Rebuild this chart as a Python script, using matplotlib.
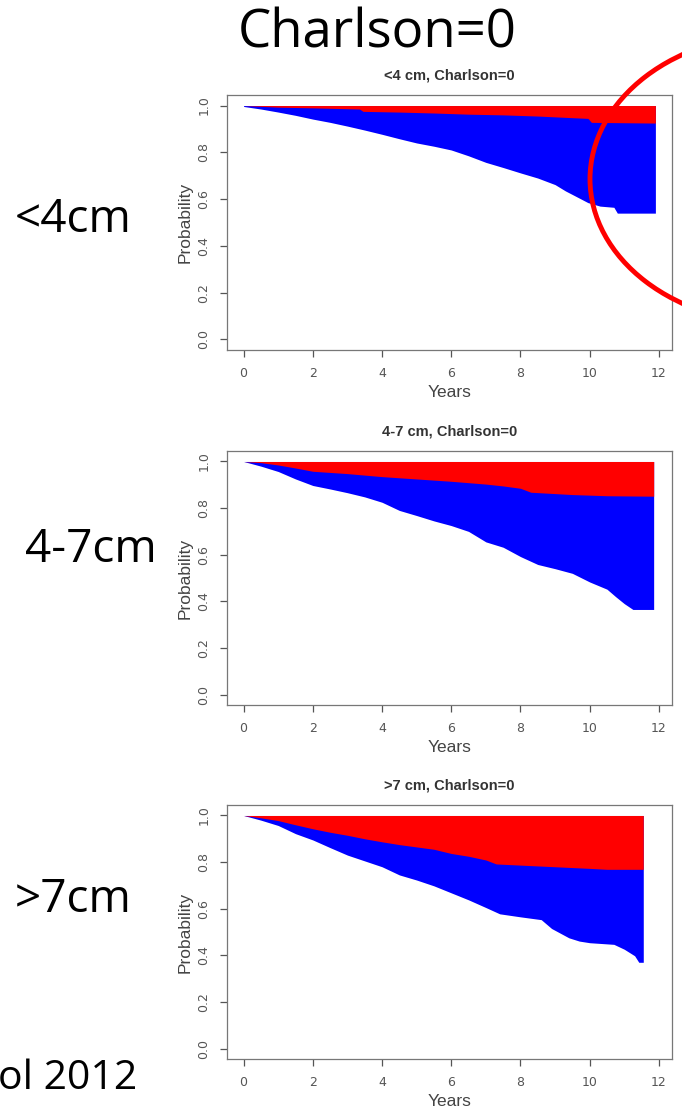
import numpy as np
import matplotlib
matplotlib.use("Agg")
import matplotlib.pyplot as plt
from matplotlib.patches import Ellipse

# curves: overall survival (white/blue edge)
# and the blue/red edge, one pair per tumour size
os_small_t = [0, 0.5, 1.0, 1.5, 2.0, 2.5, 3.0, 3.5, 4.0, 4.5, 5.0, 5.5, 6.0, 6.5,
              7.0, 7.5, 8.0, 8.5, 9.0, 9.3, 9.6, 9.95, 10.3, 10.7, 10.8, 11.9]
os_small = [0.996, 0.985, 0.972, 0.958, 0.942, 0.928, 0.912, 0.895, 0.877, 0.858,
            0.840, 0.826, 0.810, 0.785, 0.757, 0.735, 0.712, 0.690, 0.662, 0.635,
            0.612, 0.585, 0.570, 0.565, 0.540, 0.540]
red_small_t = [0, 1.0, 2.0, 3.35, 3.45, 4.5, 5.5, 6.5, 7.5, 8.5, 9.5, 9.95, 10.05, 11.9]
red_small = [1.0, 0.993, 0.990, 0.985, 0.975, 0.972, 0.968, 0.963, 0.960,
             0.955, 0.948, 0.945, 0.928, 0.925]

os_mid_t = [0, 0.5, 1.0, 1.5, 2.0, 2.5, 3.0, 3.5, 4.0, 4.5, 5.0, 5.5, 6.0, 6.5,
            7.0, 7.5, 8.0, 8.5, 9.0, 9.5, 10.0, 10.5, 10.75, 11.0, 11.25, 11.85]
os_mid = [1.0, 0.980, 0.957, 0.925, 0.897, 0.882, 0.866, 0.848, 0.825, 0.790,
          0.768, 0.745, 0.725, 0.700, 0.655, 0.632, 0.592, 0.558, 0.540, 0.520,
          0.483, 0.452, 0.420, 0.390, 0.365, 0.365]
red_mid_t = [0, 0.5, 1.0, 1.5, 2.0, 3.0, 4.0, 5.0, 6.0, 7.0, 7.5, 8.0, 8.3, 9.5, 10.5, 11.85]
red_mid = [1.0, 0.995, 0.985, 0.972, 0.958, 0.948, 0.935, 0.925, 0.915, 0.903,
           0.895, 0.885, 0.868, 0.858, 0.853, 0.851]

os_big_t = [0, 0.5, 1.0, 1.5, 2.0, 2.5, 3.0, 3.5, 4.0, 4.5, 5.0, 5.5, 6.0, 6.5,
            7.0, 7.4, 8.0, 8.6, 8.9, 9.4, 9.7, 10.0, 10.7, 11.0, 11.3, 11.42, 11.55]
os_big = [1.0, 0.980, 0.957, 0.922, 0.895, 0.862, 0.830, 0.805, 0.780, 0.745,
          0.723, 0.698, 0.668, 0.638, 0.605, 0.578, 0.565, 0.553, 0.515, 0.475,
          0.461, 0.454, 0.447, 0.426, 0.398, 0.370, 0.370]
red_big_t = [0, 0.5, 1.0, 1.5, 2.0, 2.5, 3.0, 3.5, 4.0, 4.5, 5.0, 5.5, 6.0, 6.5,
             7.0, 7.3, 8.0, 9.0, 10.0, 10.5, 11.55]
red_big = [1.0, 0.990, 0.978, 0.960, 0.943, 0.928, 0.915, 0.900, 0.887, 0.875,
           0.865, 0.855, 0.837, 0.825, 0.809, 0.792, 0.787, 0.780, 0.773, 0.769, 0.769]

panel_titles = ["<4 cm, Charlson=0", "4-7 cm, Charlson=0", ">7 cm, Charlson=0"]
row_labels = ["<4cm", "4-7cm", ">7cm"]
x_ticks = [0, 2, 4, 6, 8, 10, 12]
y_ticks = [0.0, 0.2, 0.4, 0.6, 0.8, 1.0]

panels = [(os_small_t, os_small, red_small_t, red_small),
          (os_mid_t, os_mid, red_mid_t, red_mid),
          (os_big_t, os_big, red_big_t, red_big)]

W, H = 682, 1113
fig = plt.figure(figsize=(W / 100, H / 100), dpi=100)

# axes boxes in pixels: (top, bottom)
boxes = [(95, 350), (451, 705), (805, 1059)]
label_y = [220, 550, 900]
label_x = [15, 25, 15]
left, right = 227, 672

for i, (ot, ov, rt, rv) in enumerate(panels):
    top, bot = boxes[i]
    ax = fig.add_axes([left / W, 1 - bot / H, (right - left) / W, (bot - top) / H])
    ax.fill_between(ot, ov, 1.0, color="#0000ff", lw=0)
    ax.fill_between(rt, rv, 1.0, color="#ff0000", lw=0)
    ax.set_xlim(-0.48, 12.38)
    ax.set_ylim(-0.045, 1.045)
    ax.set_xticks(x_ticks)
    ax.set_yticks(y_ticks)
    ax.set_xticklabels([str(v) for v in x_ticks])
    ax.set_yticklabels(["%.1f" % v for v in y_ticks], rotation=90, va="center")
    ax.tick_params(direction="out", length=5, width=0.9, color="#555555",
                   labelcolor="#555555", labelsize=9, pad=7)
    for s in ax.spines.values():
        s.set_color("#777777")
        s.set_linewidth(0.9)
    hpx = bot - top
    ax.text(0.5, 1 + 20 / hpx, panel_titles[i], transform=ax.transAxes,
            ha="center", va="center", fontsize=10.5, fontweight="bold",
            color="#333333", family="Liberation Sans")
    ax.text(0.5, -43 / hpx, "Years", transform=ax.transAxes, ha="center",
            va="center", fontsize=12.5, color="#444444", family="Liberation Sans")
    ax.text(-42 / (right - left), 0.5, "Probability", transform=ax.transAxes,
            ha="center", va="center", rotation=90, fontsize=12.5,
            color="#444444", family="Liberation Sans")
    fig.text(label_x[i] / W, 1 - label_y[i] / H, row_labels[i], ha="left",
             va="center", fontsize=33, family="Open Sans", color="black")

fig.text(377 / W, 1 - 34 / H, "Charlson=0", ha="center", va="center",
         fontsize=38, family="Open Sans", color="black")
fig.text(-2 / W, 1 - 1079 / H, "ol 2012", ha="left", va="center",
         fontsize=29.5, family="Open Sans", color="black")

ring = Ellipse((7.80, (H - 179) / 100), 3.8, 2.9, transform=fig.dpi_scale_trans,
               fill=False, edgecolor="#ff0000", lw=3.5)
fig.add_artist(ring)

fig.savefig("out.png", dpi=100)
